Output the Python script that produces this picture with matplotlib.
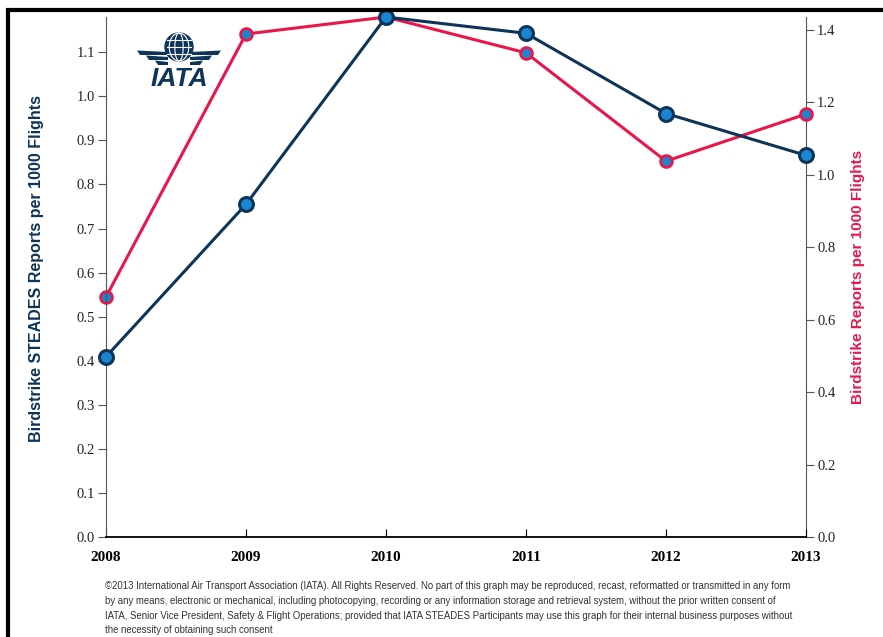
import matplotlib.pyplot as plt
import numpy as np
from matplotlib.patches import Rectangle, Circle, Ellipse, Polygon

years = [2008, 2009, 2010, 2011, 2012, 2013]
steades = [0.409, 0.755, 1.18, 1.143, 0.961, 0.866]
birdstrike = [0.663, 1.389, 1.436, 1.337, 1.038, 1.168]
left_ticks = [0.0, 0.1, 0.2, 0.3, 0.4, 0.5, 0.6, 0.7, 0.8, 0.9, 1.0, 1.1]
right_ticks = [0.0, 0.2, 0.4, 0.6, 0.8, 1.0, 1.2, 1.4]

navy = '#0d3459'
red = '#e8174a'
fill = '#1a86d0'

footer = ("\u00a92013 International Air Transport Association (IATA). All Rights Reserved. No part of this graph may be reproduced, recast, reformatted or transmitted in any form\n"
          "by any means, electronic or mechanical, including photocopying, recording or any information storage and retrieval system, without the prior written consent of\n"
          "IATA, Senior Vice President, Safety & Flight Operations; provided that IATA STEADES Participants may use this graph for their internal business purposes without\n"
          "the necessity of obtaining such consent")

fig = plt.figure(figsize=(8.83, 6.37), dpi=100)
ax = fig.add_axes([106/883, 100/637, 700/883, 520/637])
ax2 = ax.twinx()

ax.plot(years, steades, color=navy, lw=2.2, marker='o', ms=10, mfc=fill, mec=navy, mew=2.2, zorder=3, clip_on=False)
ax2.plot(years, birdstrike, color=red, lw=2.2, marker='o', ms=8.5, mfc=fill, mec=red, mew=2, zorder=3, clip_on=False)
ax.set_zorder(ax2.get_zorder() + 1)
ax.patch.set_visible(False)

ax.set_xlim(2008, 2013)
ax.set_ylim(0, 1.18)
ax2.set_ylim(0, 1.436)
ax.set_xticks(years)
ax.set_yticks(left_ticks)
ax2.set_yticks(right_ticks)
ax.set_yticklabels([f'{v:.1f}' for v in left_ticks], family='Liberation Serif', fontsize=10.5, color='#222222')
ax2.set_yticklabels([f'{v:.1f}' for v in right_ticks], family='Liberation Serif', fontsize=10.5, color='#222222')
ax.set_xticklabels([str(y) for y in years], family='Liberation Serif', fontsize=11, fontweight='bold')

ax.tick_params(axis='x', direction='in', length=6, pad=10)
ax.tick_params(axis='y', direction='out', length=6, color='#555555', pad=2)
ax2.tick_params(axis='y', direction='out', length=6, color='#555555', pad=2)

for a in (ax, ax2):
    a.spines['top'].set_visible(False)
ax.spines['right'].set_visible(False)
ax2.spines['left'].set_visible(False)
ax.spines['left'].set_color('#555555')
ax2.spines['right'].set_color('#555555')
ax.spines['bottom'].set_color('black')
ax.spines['bottom'].set_linewidth(1.3)
ax2.spines['bottom'].set_visible(False)

fig.text(37/883, 1 - 269/637, 'Birdstrike STEADES Reports per 1000 Flights', rotation=90,
         ha='center', va='center', color=navy, fontsize=11.5, family='Liberation Sans', fontweight='bold')
fig.text(858/883, 1 - 277/637, 'Birdstrike Reports per 1000 Flights', rotation=90,
         ha='center', va='center', color=red, fontsize=11, family='Liberation Sans', fontweight='bold')

fig.text(105/883, 1 - 581/637, footer, ha='left', va='top', fontsize=6.9,
         family='Liberation Sans', color='#333333', linespacing=1.6)

# figure frame
fig.patches.append(Rectangle((8/883, -0.02), 1.0, 1 - 10/637 + 0.02, transform=fig.transFigure,
                             fill=False, ec='black', lw=3))

# IATA logo
lx, ly = 179/883, 1 - 47/637
fig.patches.append(Ellipse((lx, ly), 28/883, 28/637, transform=fig.transFigure, color=navy))
for w in [0.3, 0.7]:
    fig.patches.append(Ellipse((lx, ly), 28/883 * w, 28/637, transform=fig.transFigure,
                               fill=False, ec='white', lw=0.8))
for dy in [-7, 0, 7]:
    fig.lines.append(plt.Line2D([lx - 12/883, lx + 12/883], [ly + dy/637, ly + dy/637],
                                transform=fig.transFigure, color='white', lw=0.8))
for i, dy in enumerate([5, 10, 15]):
    y0 = ly - dy/637
    ww = 42 - i * 9
    for s in (-1, 1):
        pts = [(lx + s * 11/883, y0), (lx + s * ww/883, y0 + 1.5/637),
               (lx + s * (ww - 3)/883, y0 - 3/637), (lx + s * 11/883, y0 - 3/637)]
        fig.patches.append(Polygon(pts, closed=True, transform=fig.transFigure, color=navy, lw=0))
fig.text(lx, 1 - 79/637, 'IATA', ha='center', va='center', fontsize=19, fontweight='bold',
         style='italic', color=navy, family='Liberation Sans')

fig.savefig('out.png', dpi=100)
